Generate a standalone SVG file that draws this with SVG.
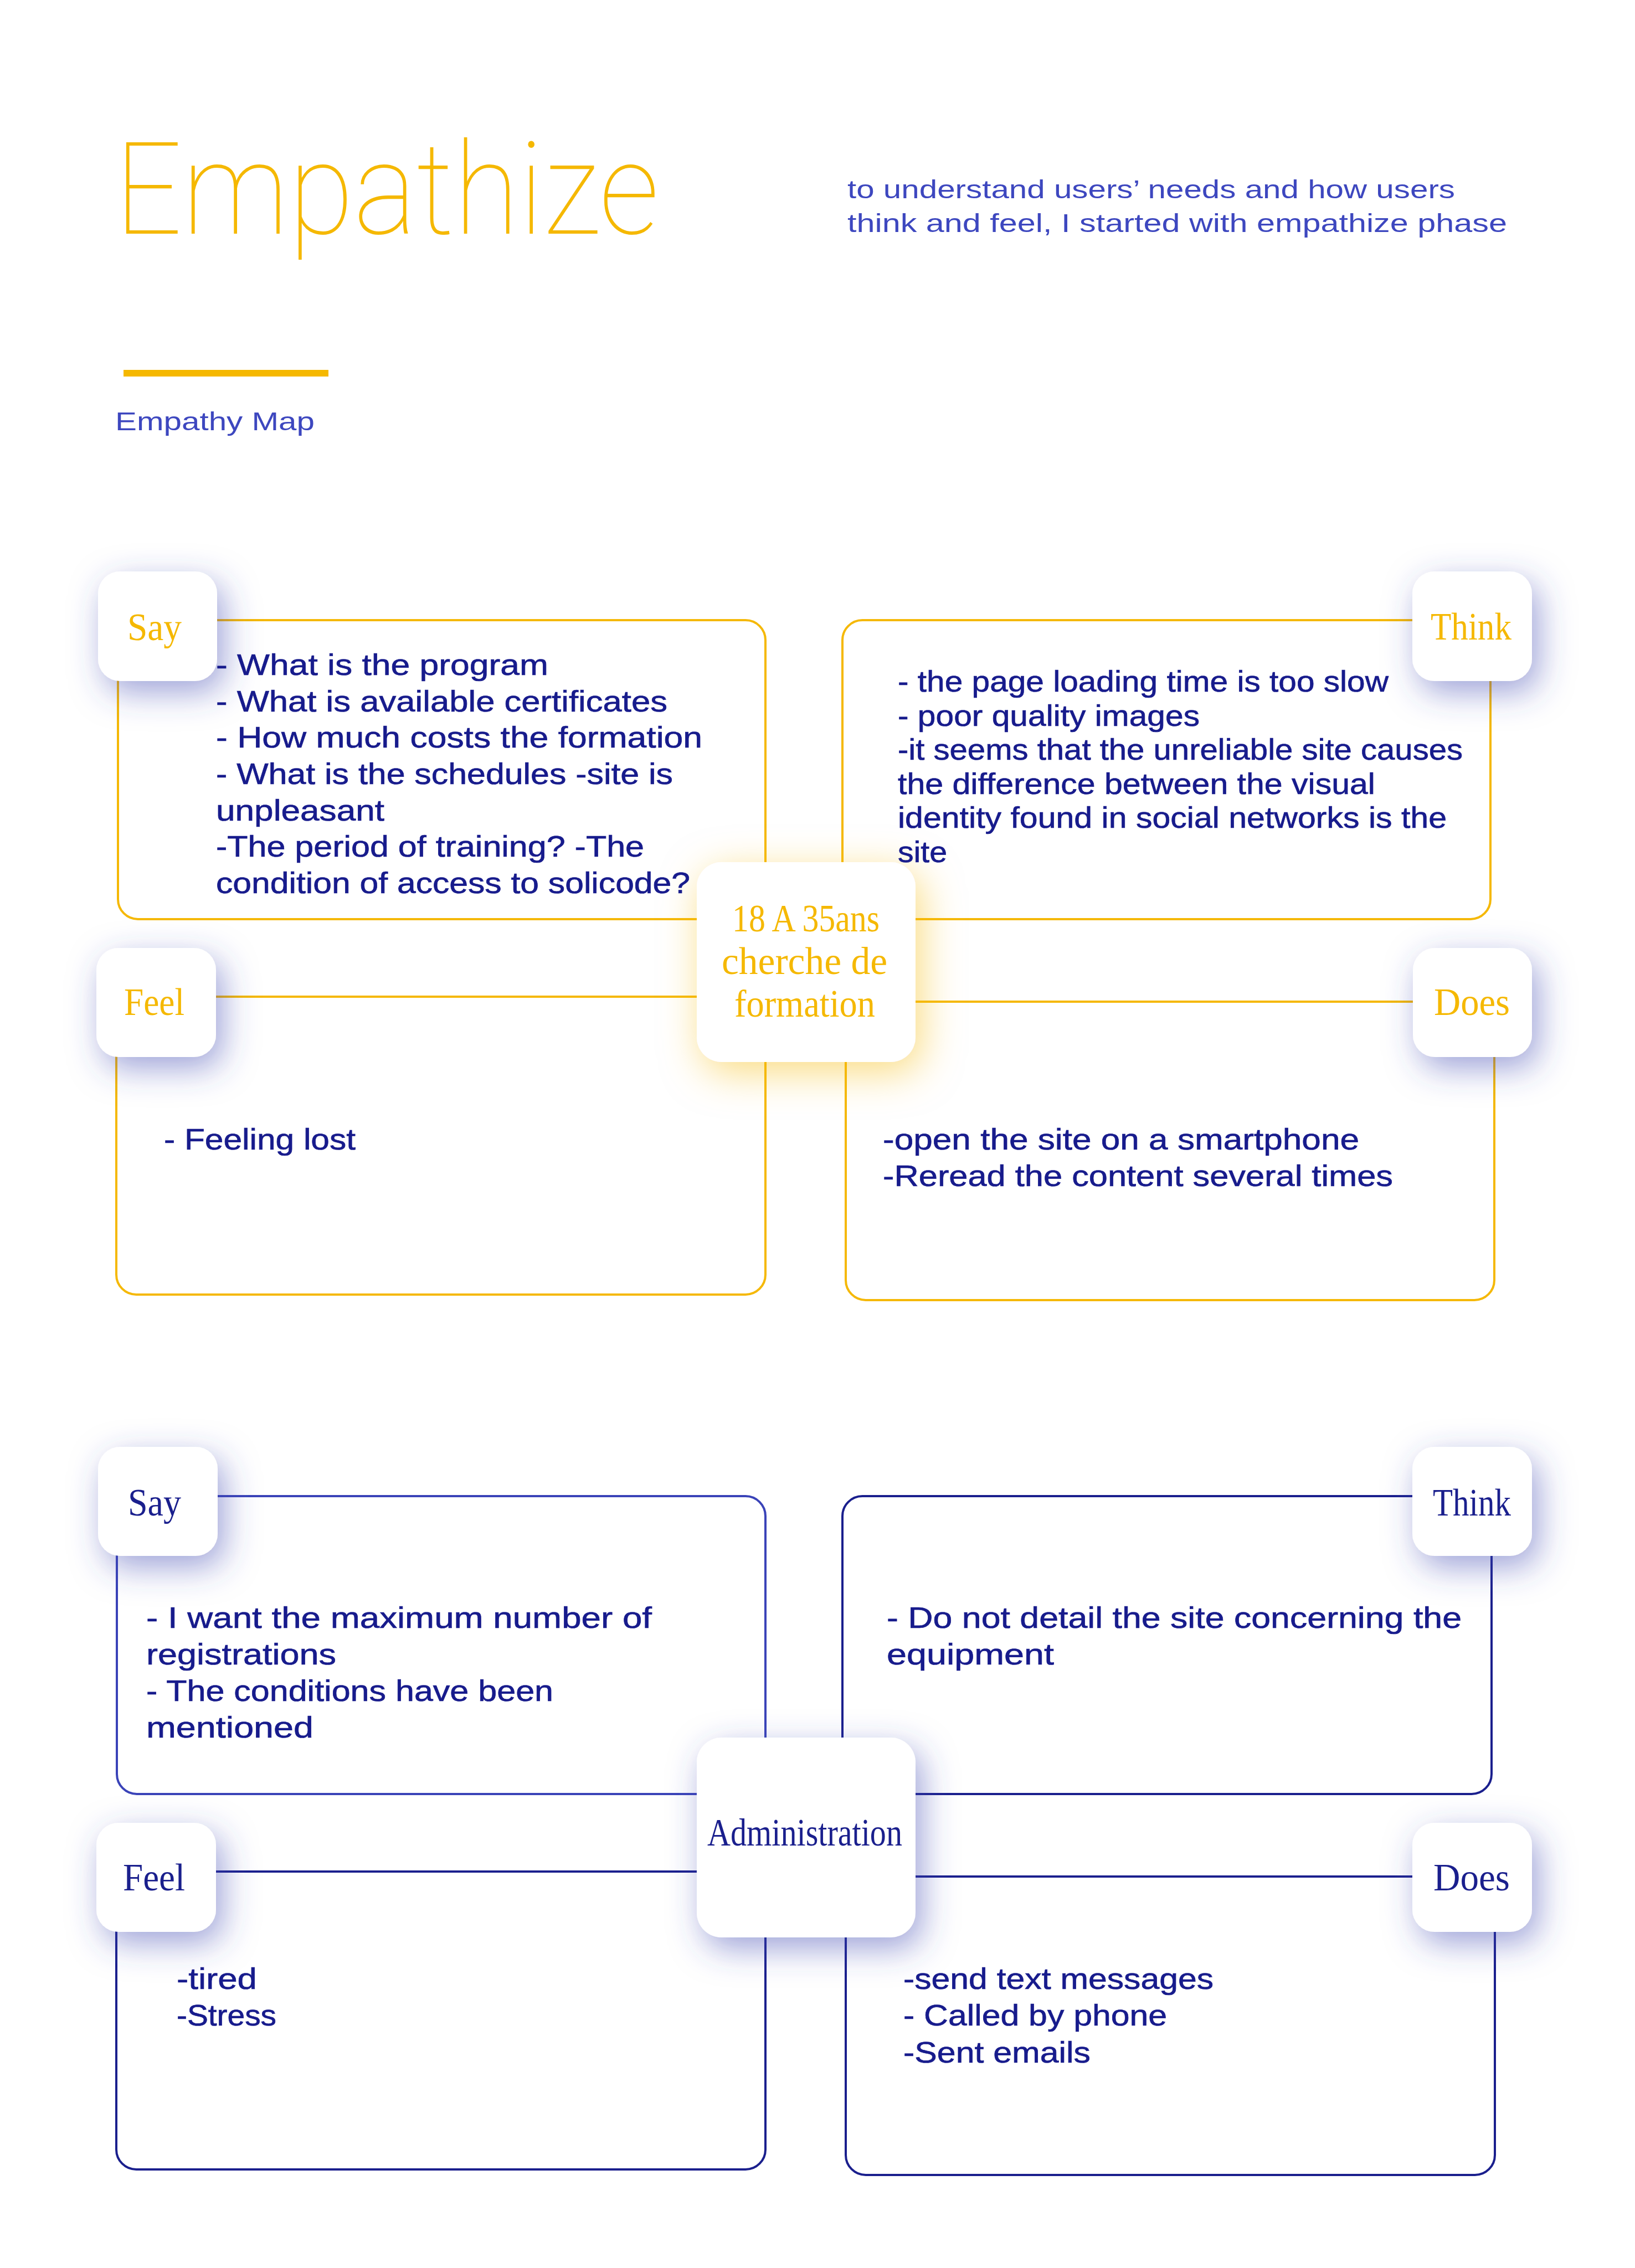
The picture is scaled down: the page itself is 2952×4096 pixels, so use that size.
<svg xmlns="http://www.w3.org/2000/svg" width="2952" height="4096" viewBox="0 0 2952 4096">
  <defs>
    <filter id="shB" x="-80%" y="-80%" width="260%" height="260%">
      <feDropShadow dx="12" dy="20" stdDeviation="30" flood-color="#3a44b0" flood-opacity="0.5"/>
    </filter>
    <filter id="shY" x="-80%" y="-80%" width="260%" height="260%">
      <feDropShadow dx="10" dy="18" stdDeviation="36" flood-color="#f5b800" flood-opacity="0.5"/>
    </filter>
    <style>
      .body { font-family: 'Liberation Sans', Arial, sans-serif; font-size: 54px; fill: #171b8c; stroke: #171b8c; stroke-width: 0.7; }
      .lbl { font-family: 'Liberation Serif', serif; font-size: 70px; }
      .ly { fill: #f5b800; }
      .ln { fill: #1a1f8d; }
      .fy { fill: none; stroke: #f5b805; stroke-width: 4; }
      .fn { fill: none; stroke: #1a1f8d; stroke-width: 4; }
      .fnl { fill: none; stroke: #3a43b8; stroke-width: 4; }
      .tab { fill: #ffffff; filter: url(#shB); }
      .ctrY { fill: #ffffff; filter: url(#shY); }
      .ctrB { fill: #ffffff; filter: url(#shB); }
      .sub { font-family: 'Liberation Sans', Arial, sans-serif; font-size: 46px; fill: #3d47bf; }
    </style>
  </defs>
  <rect x="0" y="0" width="2952" height="4096" fill="#ffffff"/>

  <g id="header">
    <text x="207" y="422" font-family="Roboto, Lato, sans-serif" font-weight="100" font-size="232" fill="#f5b800" textLength="983" lengthAdjust="spacingAndGlyphs">Empathize</text>
    <text class="sub" x="1530" y="358" textLength="1097" lengthAdjust="spacingAndGlyphs">to understand users’ needs and how users</text>
    <text class="sub" x="1530" y="419" textLength="1191" lengthAdjust="spacingAndGlyphs">think and feel, I started with empathize phase</text>
    <rect x="223" y="668" width="370" height="12" fill="#f5b800"/>
    <text class="sub" x="208" y="777" font-size="49" textLength="360" lengthAdjust="spacingAndGlyphs">Empathy Map</text>
  </g>

  <g id="connectors">
    <rect class="fy" x="213" y="1120" width="1169" height="540" rx="36"/>
    <rect class="fy" x="1521" y="1120" width="1170" height="540" rx="36"/>
    <rect class="fy" x="210" y="1800" width="1172" height="538" rx="36"/>
    <rect class="fy" x="1527" y="1809" width="1171" height="539" rx="36"/>

    <rect class="fnl" x="211" y="2702" width="1171" height="538" rx="36"/>
    <rect class="fn" x="1521" y="2702" width="1172" height="538" rx="36"/>
    <rect class="fn" x="210" y="3380" width="1172" height="538" rx="36"/>
    <rect class="fn" x="1527" y="3389" width="1172" height="539" rx="36"/>
  </g>

  <g id="top-say-tab"><rect class="tab" x="177" y="1032" width="215" height="198" rx="40"/><text class="lbl ly" x="230" y="1156" textLength="98" lengthAdjust="spacingAndGlyphs">Say</text></g>
  <g id="top-think-tab"><rect class="tab" x="2550" y="1032" width="216" height="198" rx="40"/><text class="lbl ly" x="2583" y="1155" textLength="146" lengthAdjust="spacingAndGlyphs">Think</text></g>
  <g id="top-feel-tab"><rect class="tab" x="174" y="1712" width="216" height="197" rx="40"/><text class="lbl ly" x="224" y="1833" textLength="109" lengthAdjust="spacingAndGlyphs">Feel</text></g>
  <g id="top-does-tab"><rect class="tab" x="2551" y="1712" width="215" height="197" rx="40"/><text class="lbl ly" x="2589" y="1833" textLength="137" lengthAdjust="spacingAndGlyphs">Does</text></g>
  <g id="top-center">
    <rect class="ctrY" x="1258" y="1557" width="395" height="361" rx="45"/>
    <text class="lbl ly" x="1322" y="1682" textLength="266" lengthAdjust="spacingAndGlyphs">18 A 35ans</text>
    <text class="lbl ly" x="1303" y="1759" textLength="299" lengthAdjust="spacingAndGlyphs">cherche de</text>
    <text class="lbl ly" x="1326" y="1836" textLength="254" lengthAdjust="spacingAndGlyphs">formation</text>
  </g>

  <g id="bottom-say-tab"><rect class="tab" x="177" y="2613" width="216" height="197" rx="40"/><text class="lbl ln" x="231" y="2737" textLength="96" lengthAdjust="spacingAndGlyphs">Say</text></g>
  <g id="bottom-think-tab"><rect class="tab" x="2550" y="2613" width="216" height="197" rx="40"/><text class="lbl ln" x="2587" y="2737" textLength="141" lengthAdjust="spacingAndGlyphs">Think</text></g>
  <g id="bottom-feel-tab"><rect class="tab" x="174" y="3292" width="216" height="197" rx="40"/><text class="lbl ln" x="222" y="3414" textLength="112" lengthAdjust="spacingAndGlyphs">Feel</text></g>
  <g id="bottom-does-tab"><rect class="tab" x="2550" y="3292" width="216" height="197" rx="40"/><text class="lbl ln" x="2588" y="3414" textLength="138" lengthAdjust="spacingAndGlyphs">Does</text></g>
  <g id="bottom-center">
    <rect class="ctrB" x="1258" y="3138" width="395" height="361" rx="45"/>
    <text class="lbl ln" x="1277" y="3333" font-size="66" textLength="352" lengthAdjust="spacingAndGlyphs">Administration</text>
  </g>

  <g id="top-say-text">
    <text class="body" x="390" y="1219" textLength="600" lengthAdjust="spacingAndGlyphs">- What is the program</text>
    <text class="body" x="390" y="1285" textLength="815" lengthAdjust="spacingAndGlyphs">- What is available certificates</text>
    <text class="body" x="390" y="1350" textLength="878" lengthAdjust="spacingAndGlyphs">- How much costs the formation</text>
    <text class="body" x="390" y="1416" textLength="825" lengthAdjust="spacingAndGlyphs">- What is the schedules -site is</text>
    <text class="body" x="390" y="1482" textLength="304" lengthAdjust="spacingAndGlyphs">unpleasant</text>
    <text class="body" x="390" y="1547" textLength="773" lengthAdjust="spacingAndGlyphs">-The period of training? -The</text>
    <text class="body" x="390" y="1613" textLength="856" lengthAdjust="spacingAndGlyphs">condition of access to solicode?</text>
  </g>
  <g id="top-think-text">
    <text class="body" x="1621" y="1249" textLength="886" lengthAdjust="spacingAndGlyphs">- the page loading time is too slow</text>
    <text class="body" x="1621" y="1311" textLength="545" lengthAdjust="spacingAndGlyphs">- poor quality images</text>
    <text class="body" x="1621" y="1372" textLength="1020" lengthAdjust="spacingAndGlyphs">-it seems that the unreliable site causes</text>
    <text class="body" x="1621" y="1434" textLength="862" lengthAdjust="spacingAndGlyphs">the difference between the visual</text>
    <text class="body" x="1621" y="1495" textLength="991" lengthAdjust="spacingAndGlyphs">identity found in social networks is the</text>
    <text class="body" x="1621" y="1557" textLength="89" lengthAdjust="spacingAndGlyphs">site</text>
  </g>
  <g id="top-feel-text">
    <text class="body" x="296" y="2076" textLength="346" lengthAdjust="spacingAndGlyphs">- Feeling lost</text>
  </g>
  <g id="top-does-text">
    <text class="body" x="1594" y="2076" textLength="860" lengthAdjust="spacingAndGlyphs">-open the site on a smartphone</text>
    <text class="body" x="1594" y="2142" textLength="921" lengthAdjust="spacingAndGlyphs">-Reread the content several times</text>
  </g>

  <g id="bottom-say-text">
    <text class="body" x="264" y="2940" textLength="913" lengthAdjust="spacingAndGlyphs">- I want the maximum number of</text>
    <text class="body" x="264" y="3006" textLength="343" lengthAdjust="spacingAndGlyphs">registrations</text>
    <text class="body" x="264" y="3072" textLength="735" lengthAdjust="spacingAndGlyphs">- The conditions have been</text>
    <text class="body" x="264" y="3138" textLength="302" lengthAdjust="spacingAndGlyphs">mentioned</text>
  </g>
  <g id="bottom-think-text">
    <text class="body" x="1601" y="2940" textLength="1038" lengthAdjust="spacingAndGlyphs">- Do not detail the site concerning the</text>
    <text class="body" x="1601" y="3006" textLength="302" lengthAdjust="spacingAndGlyphs">equipment</text>
  </g>
  <g id="bottom-feel-text">
    <text class="body" x="319" y="3592" textLength="145" lengthAdjust="spacingAndGlyphs">-tired</text>
    <text class="body" x="319" y="3658" textLength="180" lengthAdjust="spacingAndGlyphs">-Stress</text>
  </g>
  <g id="bottom-does-text">
    <text class="body" x="1631" y="3592" textLength="560" lengthAdjust="spacingAndGlyphs">-send text messages</text>
    <text class="body" x="1631" y="3658" textLength="476" lengthAdjust="spacingAndGlyphs">- Called by phone</text>
    <text class="body" x="1631" y="3725" textLength="338" lengthAdjust="spacingAndGlyphs">-Sent emails</text>
  </g>
</svg>
